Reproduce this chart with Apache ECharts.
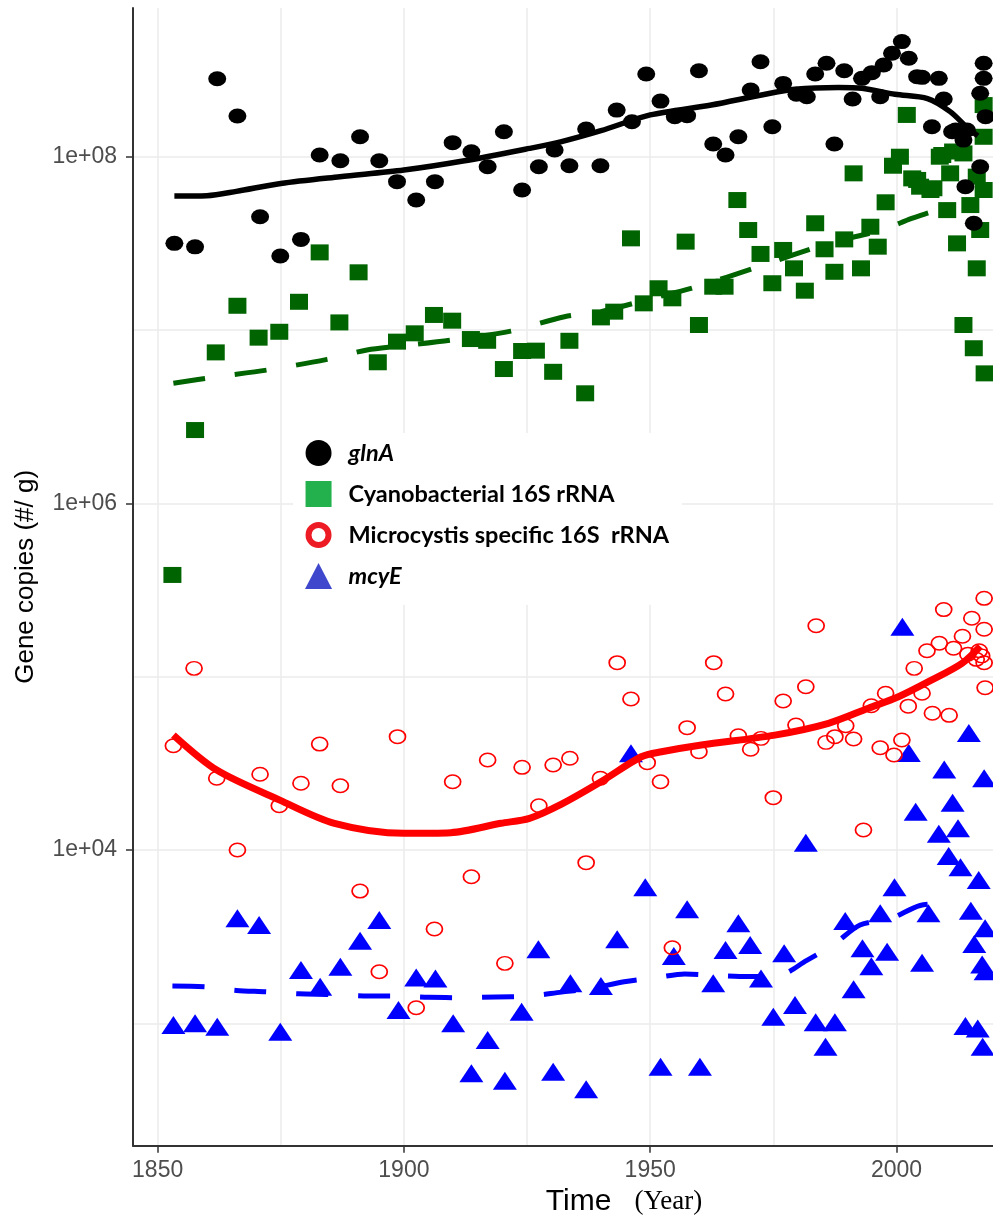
<!DOCTYPE html>
<html>
<head>
<meta charset="utf-8">
<title>Gene copies through time</title>
<script src="https://cdn.jsdelivr.net/npm/echarts@6.0.0/dist/echarts.min.js"></script>
<style>
  html, body { margin: 0; padding: 0; background: #ffffff; }
  #chart { width: 993px; height: 1219px; }
</style>
</head>
<body>
<div id="chart"></div>
<script>
// Every value is [sediment year, log10(gene copies per g)].

// glnA
const glnAPoints = [
  [1853.4, 7.50], [1857.6, 7.48], [1862.1, 8.45], [1866.2, 8.235], [1870.8, 7.654],
  [1874.9, 7.427], [1879.1, 7.523], [1882.9, 8.01], [1887.1, 7.977], [1891.1, 8.115],
  [1895.0, 7.977], [1898.6, 7.856], [1902.5, 7.75], [1906.3, 7.856], [1909.9, 8.081],
  [1913.7, 8.029], [1917.0, 7.942], [1920.3, 8.144], [1924.0, 7.808], [1927.4, 7.942],
  [1930.6, 8.039], [1933.6, 7.948], [1937.0, 8.160], [1939.9, 7.948], [1943.2, 8.269],
  [1946.3, 8.202], [1949.2, 8.477], [1952.1, 8.321], [1955.0, 8.231], [1957.5, 8.237],
  [1959.9, 8.496], [1962.8, 8.073], [1965.3, 8.010], [1967.9, 8.115], [1970.4, 8.385],
  [1972.4, 8.548], [1974.8, 8.173], [1977.0, 8.423], [1979.7, 8.36], [1981.8, 8.346],
  [1983.5, 8.477], [1985.8, 8.539], [1987.4, 8.073], [1989.4, 8.496], [1991.1, 8.333],
  [1993.0, 8.452], [1995.0, 8.485], [1996.7, 8.346], [1997.4, 8.529], [1999.1, 8.597],
  [2001.1, 8.664], [2002.5, 8.568], [2004.2, 8.462], [2005.2, 8.458], [2007.2, 8.173],
  [2008.6, 8.452], [2009.6, 8.333], [2011.3, 8.144], [2012.0, 8.154], [2013.6, 8.096],
  [2014.3, 8.154], [2014.0, 7.827], [2015.7, 7.616], [2017.0, 7.942], [2017.0, 8.366],
  [2017.7, 8.539], [2017.7, 8.452], [2018.1, 8.231]
];
const glnATrend = [
  [1853.4, 7.773], [1860, 7.775], [1866, 7.80], [1875, 7.846], [1887, 7.885],
  [1900, 7.923], [1912, 7.975], [1925.5, 8.048], [1932, 8.087], [1940, 8.15],
  [1950, 8.241], [1962.4, 8.298], [1972.6, 8.356], [1979.4, 8.389], [1988.2, 8.40],
  [1993, 8.395], [1999.7, 8.36], [2006.3, 8.335], [2010.9, 8.26], [2014.3, 8.17],
  [2016.5, 8.12]
];

// Cyanobacterial 16S rRNA
const cyanoPoints = [
  [1853.0, 5.587], [1857.6, 6.423], [1861.8, 6.871], [1866.2, 7.140], [1870.5, 6.956],
  [1874.7, 6.99], [1878.7, 7.163], [1882.9, 7.448], [1886.9, 7.044], [1890.8, 7.333],
  [1894.7, 6.814], [1898.6, 6.933], [1902.2, 6.981], [1906.1, 7.087], [1909.8, 7.054],
  [1913.6, 6.948], [1916.9, 6.938], [1920.3, 6.775], [1924.0, 6.879], [1926.8, 6.881],
  [1930.3, 6.759], [1933.6, 6.938], [1936.8, 6.635], [1940.0, 7.073], [1942.7, 7.106],
  [1946.1, 7.529], [1948.7, 7.154], [1951.7, 7.241], [1954.5, 7.183], [1957.2, 7.510],
  [1959.9, 7.029], [1962.8, 7.25], [1965.1, 7.25], [1967.7, 7.75], [1969.9, 7.577],
  [1972.4, 7.439], [1974.8, 7.27], [1977.0, 7.462], [1979.2, 7.356], [1981.4, 7.227],
  [1983.5, 7.616], [1985.4, 7.466], [1987.4, 7.336], [1989.4, 7.523], [1991.3, 7.904],
  [1992.8, 7.356], [1994.7, 7.596], [1996.2, 7.481], [1997.8, 7.737], [1999.3, 7.948],
  [2000.7, 8.0], [2002.1, 8.241], [2003.2, 7.875], [2004.2, 7.866], [2004.8, 7.827],
  [2006.9, 7.808], [2007.5, 7.818], [2008.8, 8.0], [2009.3, 8.01], [2010.3, 7.692],
  [2010.9, 7.904], [2011.5, 8.03], [2012.3, 7.5], [2013.6, 8.019], [2013.6, 7.029],
  [2015.0, 7.721], [2015.7, 6.895], [2016.3, 7.885], [2016.3, 7.356], [2017.0, 7.577],
  [2017.7, 8.298], [2017.7, 8.115], [2017.7, 7.808], [2017.9, 6.75]
];
const cyanoTrend = [
  [1853.2, 6.693], [1862, 6.73], [1872.2, 6.769], [1884.4, 6.831], [1892.5, 6.885],
  [1900, 6.91], [1909.5, 6.942], [1921.7, 6.994], [1932.6, 7.077], [1940, 7.106],
  [1950, 7.18], [1959, 7.246], [1971.9, 7.365], [1986.2, 7.5], [1997, 7.577],
  [2003.1, 7.644], [2008.3, 7.692], [2012, 7.71]
];

// Microcystis specific 16S rRNA
const microPoints = [
  [1853.2, 4.602], [1857.4, 5.048], [1862.0, 4.414], [1866.2, 4.0], [1870.8, 4.437],
  [1874.7, 4.255], [1879.1, 4.385], [1882.9, 4.611], [1887.1, 4.371], [1891.1, 3.763],
  [1895.0, 3.298], [1898.7, 4.654], [1902.5, 3.09], [1906.2, 3.544], [1909.9, 4.394],
  [1913.7, 3.846], [1917.0, 4.519], [1920.5, 3.346], [1924.0, 4.477], [1927.4, 4.255],
  [1930.3, 4.49], [1933.7, 4.529], [1937.0, 3.927], [1939.9, 4.414], [1943.3, 5.081],
  [1946.1, 4.871], [1949.4, 4.504], [1952.1, 4.394], [1954.5, 3.436], [1957.5, 4.706],
  [1959.9, 4.567], [1962.9, 5.081], [1965.3, 4.9], [1967.9, 4.659], [1970.4, 4.581],
  [1972.5, 4.644], [1975.0, 4.302], [1977.0, 4.86], [1979.6, 4.721], [1981.6, 4.942],
  [1983.7, 5.294], [1985.7, 4.621], [1987.5, 4.654], [1989.7, 4.717], [1991.3, 4.64],
  [1993.3, 4.115], [1994.9, 4.832], [1996.7, 4.590], [1997.8, 4.904], [1999.5, 4.548],
  [2001.1, 4.635], [2002.4, 4.83], [2003.6, 5.048], [2005.2, 4.904], [2006.2, 5.15],
  [2007.3, 4.789], [2008.7, 5.193], [2009.6, 5.387], [2010.7, 4.777], [2011.6, 5.164],
  [2013.4, 5.233], [2014.5, 5.13], [2015.3, 5.337], [2016.2, 5.1], [2016.8, 5.15],
  [2017.3, 5.12], [2017.8, 5.452], [2017.8, 5.274], [2017.8, 5.08], [2018.0, 4.936]
];
const microTrend = [
  [1853.2, 4.663], [1862, 4.461], [1874.8, 4.288], [1885.9, 4.154], [1900, 4.096],
  [1909.5, 4.1], [1919.7, 4.154], [1925.5, 4.183], [1932, 4.265], [1940, 4.394],
  [1948.2, 4.538], [1952.3, 4.567], [1960.4, 4.606], [1975.3, 4.663], [1986.2, 4.731],
  [1994.3, 4.818], [2000.4, 4.884], [2006.5, 4.971], [2013.3, 5.077], [2017, 5.175]
];

// mcyE
const mcyEPoints = [
  [1853.2, 2.99], [1857.6, 3.0], [1862.1, 2.98], [1866.2, 3.606], [1870.6, 3.567],
  [1874.9, 2.952], [1879.1, 3.308], [1883.0, 3.211], [1887.1, 3.327], [1891.1, 3.477],
  [1895.0, 3.596], [1898.9, 3.077], [1902.5, 3.265], [1906.4, 3.259], [1910.0, 3.0],
  [1913.7, 2.712], [1917.0, 2.904], [1920.5, 2.669], [1923.9, 3.067], [1927.3, 3.427],
  [1930.3, 2.721], [1933.8, 3.231], [1937.0, 2.62], [1940.0, 3.215], [1943.3, 3.485],
  [1946.1, 4.558], [1949.0, 3.785], [1952.1, 2.75], [1954.8, 3.388], [1957.5, 3.658],
  [1960.1, 2.75], [1962.8, 3.231], [1965.3, 3.423], [1967.9, 3.577], [1970.3, 3.452],
  [1972.5, 3.259], [1975.0, 3.038], [1977.2, 3.404], [1979.4, 3.106], [1981.6, 4.042],
  [1983.6, 3.006], [1985.6, 2.865], [1987.5, 3.006], [1989.6, 3.59], [1991.3, 3.196],
  [1993.1, 3.433], [1994.9, 3.33], [1996.7, 3.635], [1998.1, 3.413], [1999.6, 3.785],
  [2001.2, 5.288], [2002.5, 4.56], [2003.9, 4.221], [2005.2, 3.35], [2006.5, 3.635],
  [2008.6, 4.094], [2009.7, 4.465], [2010.6, 3.966], [2011.4, 4.273], [2012.5, 4.125],
  [2013.0, 3.9], [2014.0, 2.985], [2014.7, 4.675], [2015.1, 3.65], [2015.8, 3.457],
  [2016.5, 2.97], [2016.7, 3.827], [2017.4, 3.34], [2017.5, 2.865], [2017.8, 4.414],
  [2018.0, 3.548], [2018.1, 3.3]
];
const mcyETrend = [
  [1853, 3.215], [1860, 3.21], [1866, 3.19], [1872, 3.182], [1878.6, 3.17],
  [1885.3, 3.166], [1891.8, 3.158], [1898.5, 3.157], [1905, 3.15], [1912, 3.148],
  [1918.6, 3.152], [1925.3, 3.157], [1932, 3.18], [1938, 3.2], [1944.7, 3.24],
  [1951.6, 3.265], [1957, 3.285], [1964, 3.275], [1970, 3.27], [1976, 3.275],
  [1981.8, 3.363], [1987.3, 3.456], [1992.6, 3.567], [1999, 3.606], [2004.8, 3.68],
  [2011.7, 3.696]
];

// Axis ranges and labelled breaks
const yearRange = [1845, 2026.3];
const yearTicks = [1850, 1900, 1950, 2000];
const log10Range = [2.294, 8.858];
const log10Ticks = [4, 6, 8];

const legendNames = ['glnA', 'Cyanobacterial 16S rRNA', 'Microcystis specific 16S  rRNA', 'mcyE'];
const italicNames = ['glnA', 'mcyE'];

const SANS = '"Liberation Sans", Arial, sans-serif';
// Marker outlines as paths so they can take separate widths and heights
const DOT = 'path://M0,10A10,10 0 1,1 20,10A10,10 0 1,1 0,10Z';
const RING = 'path://M0,13A13,13 0 1,1 26,13A13,13 0 1,1 0,13ZM6,13A7,7 0 1,0 20,13A7,7 0 1,0 6,13Z';
const SQUARE = 'path://M0,0H10V10H0Z';
const TRIANGLE = 'path://M5,0L10,9.6H0Z';

function points(name, data, symbol, size, itemStyle, z) {
  return {
    type: 'scatter', name, data, symbol, symbolSize: size,
    itemStyle: Object.assign({ opacity: 1 }, itemStyle), z,
    silent: true, emphasis: { disabled: true }
  };
}
function trend(name, data, color, width, dash, z) {
  return {
    type: 'line', name, data, showSymbol: false, symbol: 'none', smooth: 0.3,
    lineStyle: { color, width, opacity: 1, type: dash || 'solid', cap: 'butt', join: 'round' },
    z, silent: true, emphasis: { disabled: true }
  };
}

const gridLine = { color: '#EBEBEB', width: 1.5 };

const option = {
  animation: false,
  backgroundColor: '#ffffff',
  grid: {
    left: 133, right: -33, top: 8, bottom: 73.3,
    containLabel: false, outerBoundsMode: 'none'
  },
  xAxis: {
    type: 'value',
    min: yearRange[0], max: yearRange[1],
    splitNumber: 4, minInterval: 50, maxInterval: 50,
    name: '{t|Time}{y|(Year)}',
    nameLocation: 'middle',
    nameGap: 38,
    nameTextStyle: {
      rich: {
        t: { fontFamily: SANS, fontSize: 30, color: '#000', padding: [0, 0, 0, 89] },
        y: { fontFamily: '"Liberation Serif", "Times New Roman", serif', fontSize: 27, color: '#000', padding: [0, 0, 0, 23] }
      }
    },
    axisLine: { show: true, onZero: false, lineStyle: { color: '#333333', width: 2 } },
    axisTick: { show: true, length: 7, customValues: yearTicks, lineStyle: { color: '#333333', width: 1.5 } },
    axisLabel: {
      customValues: yearTicks,
      margin: 13, fontFamily: SANS, fontSize: 23, color: '#4D4D4D',
      formatter: v => (yearTicks.includes(v) ? String(v) : '')
    },
    splitLine: { show: true, lineStyle: gridLine },
    minorTick: { show: false, splitNumber: 2 },
    minorSplitLine: { show: true, lineStyle: gridLine }
  },
  yAxis: {
    type: 'value',
    min: log10Range[0], max: log10Range[1],
    splitNumber: 3, minInterval: 2, maxInterval: 2,
    name: 'Gene copies (#/ g)',
    nameLocation: 'middle',
    nameGap: 94,
    nameTextStyle: { fontFamily: SANS, fontSize: 26, color: '#000' },
    axisLine: { show: true, onZero: false, lineStyle: { color: '#333333', width: 2 } },
    axisTick: { show: true, length: 7, customValues: log10Ticks, lineStyle: { color: '#333333', width: 1.5 } },
    axisLabel: {
      customValues: log10Ticks,
      margin: 16, fontFamily: SANS, fontSize: 23, color: '#4D4D4D',
      formatter: v => (log10Ticks.includes(v) ? '1e+' + String(v).padStart(2, '0') : '')
    },
    splitLine: { show: true, lineStyle: gridLine },
    minorTick: { show: false, splitNumber: 2 },
    minorSplitLine: { show: true, lineStyle: gridLine }
  },
  legend: {
    orient: 'vertical',
    left: 293, top: 433,
    padding: [7, 13, 16, 12],
    backgroundColor: '#ffffff',
    itemWidth: 50, itemHeight: 26, itemGap: 15,
    selectedMode: false,
    z: 10,
    data: [
      { name: legendNames[0], icon: 'circle', itemStyle: { color: '#000000', opacity: 1 } },
      { name: legendNames[1], icon: SQUARE, itemStyle: { color: '#22B14C', opacity: 1 } },
      { name: legendNames[2], icon: RING, itemStyle: { color: '#ED1C24', borderWidth: 0, opacity: 1 } },
      { name: legendNames[3], icon: TRIANGLE, itemStyle: { color: '#3F48CC', opacity: 1 } }
    ],
    formatter: n => (italicNames.includes(n) ? '{i|' + n + '}' : n),
    textStyle: {
      fontFamily: 'Lato', fontWeight: 'bold', fontSize: 23.5, color: '#000',
      rich: { i: { fontFamily: 'Lato', fontWeight: 'bold', fontStyle: 'italic', fontSize: 23.5, color: '#000' } }
    }
  },
  series: [
    points(legendNames[3], mcyEPoints, TRIANGLE, [24, 18], { color: '#0000FF' }, 1),
    trend('mcyE trend', mcyETrend, '#0000FF', 5, [32, 30], 2),
    points(legendNames[1], cyanoPoints, SQUARE, [18, 16], { color: '#006400' }, 3),
    trend('Cyanobacterial trend', cyanoTrend, '#006400', 5, [32, 30], 4),
    points(legendNames[0], glnAPoints, DOT, [18, 15], { color: '#000000' }, 5),
    trend('glnA trend', glnATrend, '#000000', 5.5, null, 6),
    points(legendNames[2], microPoints, DOT, [16, 13.5],
      { color: 'rgba(255,255,255,0)', borderColor: '#FF0000', borderWidth: 1.6 }, 7),
    trend('Microcystis trend', microTrend, '#FF0000', 7, null, 8)
  ]
};

const chart = echarts.init(document.getElementById('chart'), null, { renderer: 'canvas' });
chart.setOption(option);
</script>
</body>
</html>
